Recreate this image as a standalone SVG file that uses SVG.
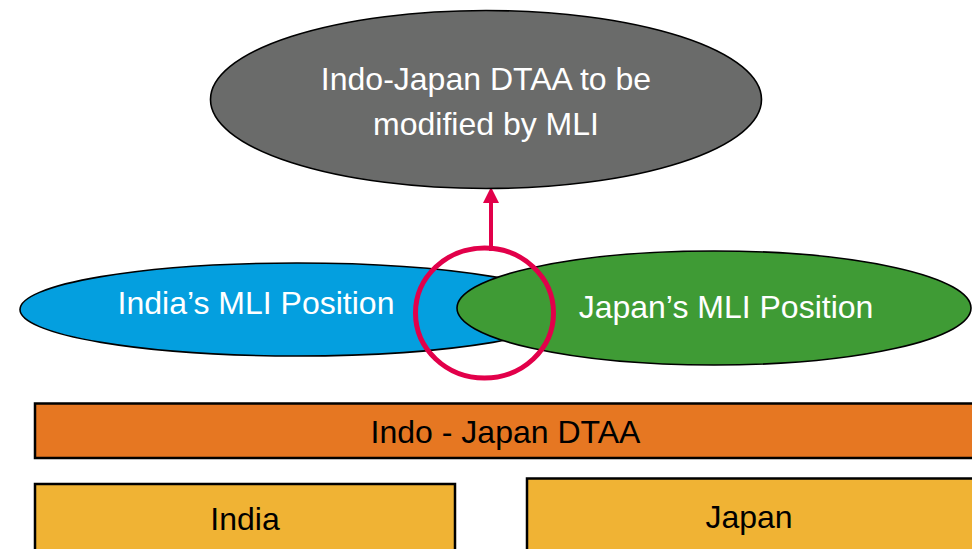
<svg xmlns="http://www.w3.org/2000/svg" width="972" height="549" viewBox="0 0 972 549">
<style>
text{font-family:"Liberation Sans",Arial,sans-serif;font-size:32px;text-anchor:middle}
.w{fill:#ffffff}
.k{fill:#000000}
.el{stroke:#000;stroke-width:1.6}
.box{stroke:#000;stroke-width:2.5}
</style>
<defs>
<marker id="ah" markerWidth="4" markerHeight="4" refX="0" refY="2" orient="auto" markerUnits="strokeWidth">
<path d="M0,0 L4,2 L0,4 Z" fill="#e2004a"/>
</marker>
</defs>
<rect width="972" height="549" fill="#fff"/>
<g id="india-mli">
<ellipse class="el" cx="297" cy="309.5" rx="277" ry="46.5" fill="#049fdf"/>
<text class="w" x="256" y="314">India’s MLI Position</text>
</g>
<g id="japan-mli">
<ellipse class="el" cx="714" cy="308" rx="257" ry="57" fill="#3f9b35"/>
<text class="w" x="726" y="318">Japan’s MLI Position</text>
</g>
<g id="overlap">
<ellipse cx="484.5" cy="313" rx="69" ry="65" fill="none" stroke="#e2004a" stroke-width="5"/>
</g>
<g id="connectors">
<line x1="491" y1="251" x2="491" y2="203" stroke="#e2004a" stroke-width="4" marker-end="url(#ah)"/>
</g>
<g id="modified">
<ellipse class="el" cx="486" cy="99.5" rx="275.5" ry="89" fill="#6a6b6a"/>
<text class="w" x="486" y="90">Indo-Japan DTAA to be</text>
<text class="w" x="486" y="135">modified by MLI</text>
</g>
<g id="dtaa">
<rect class="box" x="35" y="403.5" width="945" height="54.5" fill="#e67722"/>
<text class="k" x="505.5" y="443">Indo - Japan DTAA</text>
</g>
<g id="india">
<rect class="box" x="35" y="484" width="420" height="80" fill="#f0b334"/>
<text class="k" x="245" y="530">India</text>
</g>
<g id="japan">
<rect class="box" x="527" y="478.5" width="450" height="90" fill="#f0b334"/>
<text class="k" x="749" y="528">Japan</text>
</g>
</svg>
